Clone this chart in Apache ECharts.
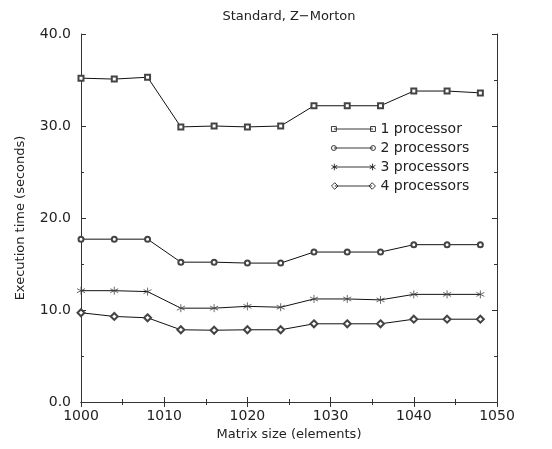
<!DOCTYPE html>
<html>
<head>
<meta charset="utf-8">
<script src="https://cdn.jsdelivr.net/npm/echarts@6/dist/echarts.min.js"></script>
<style>
  html, body { margin: 0; padding: 0; background: #fff; }
  #myChart { width: 552px; height: 449px; }
</style>
</head>
<body>
<div id="myChart"></div>
<script>
// matrix sizes (x) and execution times per processor count
const sizes = [1000, 1004, 1008, 1012, 1016, 1020, 1024, 1028, 1032, 1036, 1040, 1044, 1048]
const proc1 = [35.2, 35.1, 35.3, 29.9, 30.0, 29.9, 30.0, 32.2, 32.2, 32.2, 33.8, 33.8, 33.6]
const proc2 = [17.7, 17.7, 17.7, 15.2, 15.2, 15.1, 15.1, 16.3, 16.3, 16.3, 17.1, 17.1, 17.1]
const proc3 = [12.1, 12.1, 12.0, 10.2, 10.2, 10.4, 10.3, 11.2, 11.2, 11.1, 11.7, 11.7, 11.7]
const proc4 = [9.7, 9.3, 9.15, 7.85, 7.8, 7.85, 7.85, 8.5, 8.5, 8.5, 9.0, 9.0, 9.0]
const seriesNames = ['1 processor', '2 processors', '3 processors', '4 processors']

const font = 'DejaVu Sans'
const asterisk = 'path://M5,0L5,10M0.67,2.5L9.33,7.5M0.67,7.5L9.33,2.5'

// legend icons: line sample with a point at each end (gnuplot style)
const legendIcons = [
  'path://M0,4L40,4M-2.5,1.5h5v5h-5zM37.5,1.5h5v5h-5z',
  'path://M0,4L40,4M-2.5,4a2.5,2.5 0 1,0 5,0a2.5,2.5 0 1,0 -5,0zM37.5,4a2.5,2.5 0 1,0 5,0a2.5,2.5 0 1,0 -5,0z',
  'path://M0,4L40,4M0,0.5L0,7.5M-3,2.2L3,5.8M-3,5.8L3,2.2M40,0.5L40,7.5M37,2.2L43,5.8M37,5.8L43,2.2',
  'path://M0,4L40,4M-3.5,4L0,0.5L3.5,4L0,7.5zM36.5,4L40,0.5L43.5,4L40,7.5z'
]

function pairs(ys) {
  return sizes.map((x, i) => [x, ys[i]])
}

function makeSeries(name, ys, symbol, size) {
  return {
    name: name,
    type: 'line',
    data: pairs(ys),
    symbol: symbol,
    symbolSize: size,
    showAllSymbol: true,
    lineStyle: { color: '#111', width: 1 },
    itemStyle: { color: '#444', borderColor: '#444', borderWidth: 0.8 },
    emphasis: { disabled: true },
    animation: false
  }
}

const tickCommon = {
  axisLine: { show: true, lineStyle: { color: '#333', width: 1 } },
  axisTick: { show: true, inside: true, length: 5, lineStyle: { color: '#333' } },
  minorTick: { show: true, splitNumber: 2, length: 3, lineStyle: { color: '#333' } },
  splitLine: { show: false }
}

const myChart = echarts.init(document.getElementById('myChart'))
myChart.setOption({
  backgroundColor: '#fff',
  animation: false,
  title: {
    text: 'Standard, Z\u2212Morton',
    left: 284,
    textAlign: 'center',
    top: 5,
    textStyle: { fontFamily: font, fontSize: 13, fontWeight: 'normal', color: '#222' }
  },
  grid: { left: 81, right: 55, top: 34, bottom: 47 },
  legend: {
    orient: 'vertical',
    left: 326,
    top: 117,
    itemWidth: 44,
    itemHeight: 7,
    itemGap: 5,
    textStyle: { fontFamily: font, fontSize: 14, color: '#222' },
    data: seriesNames.map((n, i) => ({
      name: n,
      icon: legendIcons[i],
      itemStyle: { color: '#fff', borderColor: '#222', borderWidth: 0.9 }
    }))
  },
  xAxis: [
    Object.assign({
      type: 'value',
      min: 1000,
      max: 1050,
      interval: 10,
      name: 'Matrix size (elements)',
      nameLocation: 'middle',
      nameGap: 17,
      nameTextStyle: { fontFamily: font, fontSize: 13, color: '#222' },
      axisLabel: {
        fontFamily: font, fontSize: 14, color: '#222', margin: 7,
        formatter: v => String(v)
      }
    }, tickCommon),
    Object.assign({
      type: 'value',
      position: 'top',
      min: 1000,
      max: 1050,
      interval: 10,
      axisLabel: { show: false }
    }, tickCommon)
  ],
  yAxis: [
    Object.assign({
      type: 'value',
      min: 0,
      max: 40,
      interval: 10,
      name: 'Execution time (seconds)',
      nameLocation: 'middle',
      nameGap: 54,
      nameTextStyle: { fontFamily: font, fontSize: 13, color: '#222' },
      axisLabel: {
        fontFamily: font, fontSize: 14, color: '#222', margin: 10,
        formatter: v => v.toFixed(1)
      }
    }, tickCommon),
    Object.assign({
      type: 'value',
      position: 'right',
      min: 0,
      max: 40,
      interval: 10,
      axisLabel: { show: false }
    }, tickCommon)
  ],
  series: [
    makeSeries(seriesNames[0], proc1, 'emptyRect', 5),
    makeSeries(seriesNames[1], proc2, 'emptyCircle', 5),
    makeSeries(seriesNames[2], proc3, asterisk, 8),
    makeSeries(seriesNames[3], proc4, 'emptyDiamond', 7)
  ]
})
</script>
</body>
</html>
